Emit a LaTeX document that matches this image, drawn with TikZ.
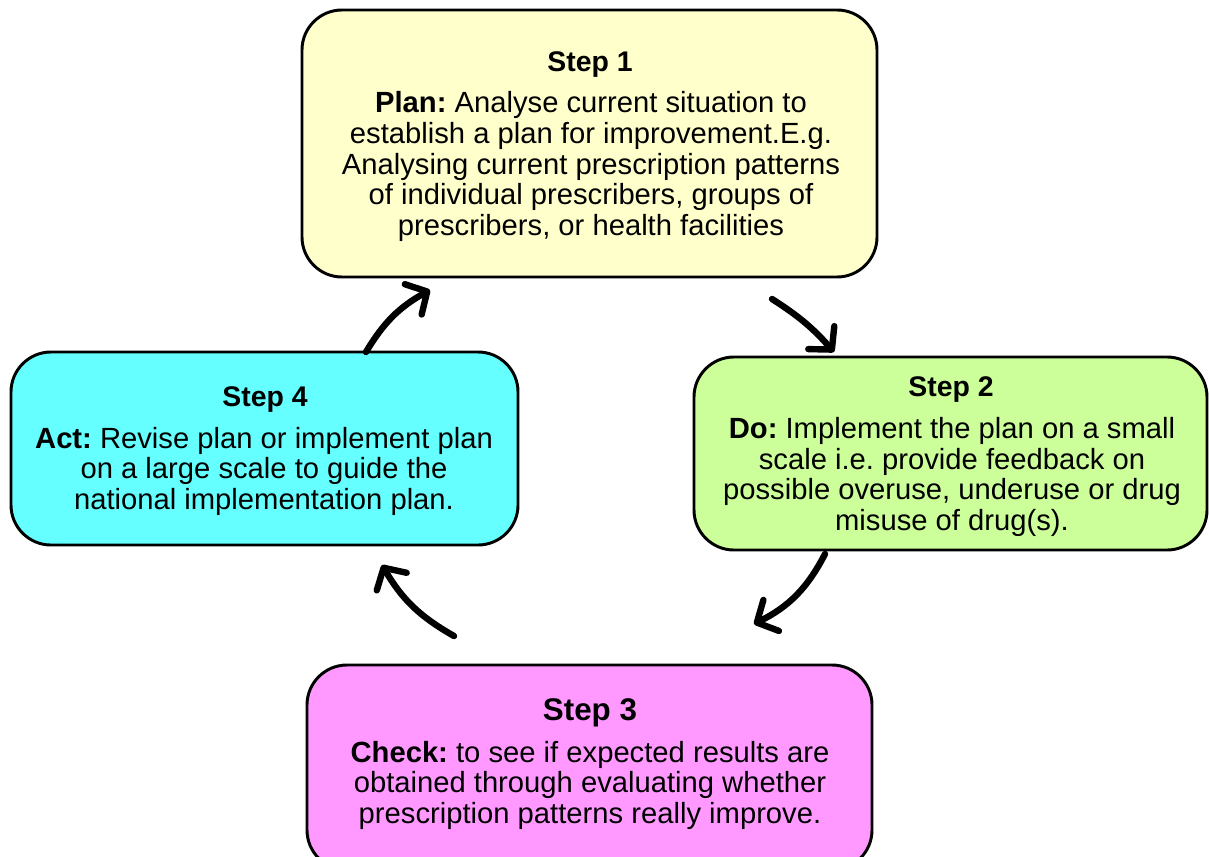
\documentclass[tikz,border=0pt]{standalone}
\usepackage{fontspec}
\setmainfont{Liberation Sans}
\usetikzlibrary{arrows.meta}
\definecolor{plancol}{HTML}{FFFFCC}
\definecolor{docol}{HTML}{CCFF99}
\definecolor{checkcol}{HTML}{FF99FF}
\definecolor{actcol}{HTML}{66FFFF}
\frenchspacing
\tikzset{
  stepbox/.style={draw=black, line width=2.2pt, rounded corners=30pt},
  ttl/.style={font=\fontsize{21.3}{24}\selectfont\bfseries, inner sep=0pt},
  body/.style={font=\fontsize{21.9}{22.9}\selectfont, align=center, inner sep=0pt},
  cyc/.style={line width=4.8pt, line cap=round, -{Straight Barb[length=12pt,width=26pt,line width=4.8pt,round]}}
}
\begin{document}
\begin{tikzpicture}[x=0.75pt,y=-0.75pt]
\useasboundingbox (0,0) rectangle (1209,856);
% boxes
\draw[stepbox, fill=plancol] (302,10) rectangle (877,277);
\draw[stepbox, fill=docol] (694,357) rectangle (1207,550);
\draw[stepbox, fill=checkcol] (307,665) rectangle (872,870);
\draw[stepbox, fill=actcol] (11,352) rectangle (518,545);
% texts
\node[ttl] (t1) at (590,64.5) {Step 1};
\node[body] (b1) at (591,166.5) {\textbf{Plan:} Analyse current situation to\\establish a plan for improvement.E.g.\\Analysing current prescription patterns\\of individual prescribers, groups of\\prescribers, or health facilities};
\node[ttl] (t2) at (951,389.5) {Step 2};
\node[body] (b2) at (952,477) {\textbf{Do:} Implement the plan on a small\\scale i.e. provide feedback on\\possible overuse, underuse or drug\\misuse of drug(s).};
\node[ttl, font=\fontsize{23.5}{26}\selectfont\bfseries] (t3) at (590,713) {Step 3};
\node[body] (b3) at (590,785) {\textbf{Check:} to see if expected results are\\obtained through evaluating whether\\prescription patterns really improve.};
\node[ttl] (t4) at (265,399.5) {Step 4};
\node[body] (b4) at (264,471) {\textbf{Act:} Revise plan or implement plan\\on a large scale to guide the\\national implementation plan.};
% arrows
\coordinate (a1s) at (772,299);
\coordinate (a1e) at (834,352);
\coordinate (a2s) at (825,554);
\coordinate (a2e) at (754,624);
\coordinate (a3s) at (454,636);
\coordinate (a3e) at (382,565);
\coordinate (a4s) at (366,352);
\coordinate (a4e) at (430,290);
\draw[cyc] (a1s) to[bend left=8] (a1e);
\draw[cyc] (a2s) to[bend left=18] (a2e);
\draw[cyc] (a3s) to[bend left=15] (a3e);
\draw[cyc] (a4s) to[bend left=15] (a4e);
\end{tikzpicture}
\end{document}
